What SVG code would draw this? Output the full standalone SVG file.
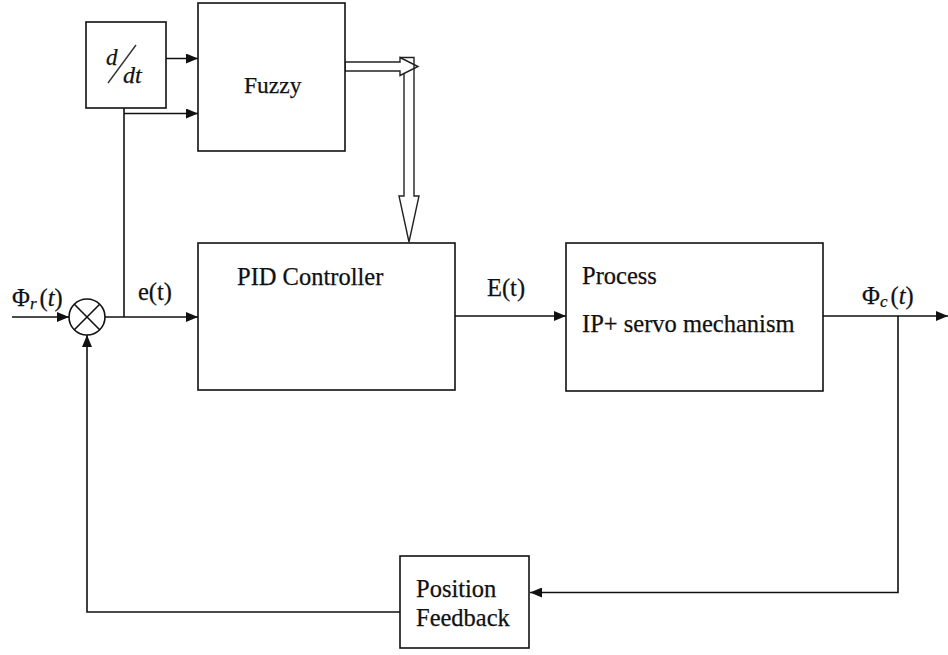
<svg xmlns="http://www.w3.org/2000/svg" width="948" height="655" viewBox="0 0 948 655">
<style>
.box{fill:#fff;stroke:#111;stroke-width:1.6}
.ln{fill:none;stroke:#111;stroke-width:1.6}
.hol{stroke:#222;stroke-width:1.4;stroke-linejoin:miter}
.t{font-size:24.5px;fill:#111;stroke:#111;stroke-width:0.25}
.it{font-style:italic}
</style>
<defs>
<marker id="ah" viewBox="0 0 12 10" refX="12" refY="5" markerWidth="12" markerHeight="10" markerUnits="userSpaceOnUse" orient="auto">
<path d="M0,0 L12,5 L0,10 Z" fill="#111"/>
</marker>
</defs>
<g id="connectors">
<line class="ln" x1="12" y1="317" x2="69" y2="317" marker-end="url(#ah)"/>
<line class="ln" x1="105" y1="317" x2="198" y2="317" marker-end="url(#ah)"/>
<line class="ln" x1="124" y1="108" x2="124" y2="317"/>
<line class="ln" x1="124" y1="113.5" x2="198" y2="113.5" marker-end="url(#ah)"/>
<line class="ln" x1="160" y1="58.5" x2="198" y2="58.5" marker-end="url(#ah)"/>
<line class="ln" x1="455" y1="316" x2="566" y2="316" marker-end="url(#ah)"/>
<line class="ln" x1="823" y1="316" x2="948" y2="316" marker-end="url(#ah)"/>
<polyline class="ln" points="898,316 898,592.5 530,592.5" marker-end="url(#ah)"/>
<polyline class="ln" points="400,612 87,612 87,335" marker-end="url(#ah)"/>
<polygon class="hol" fill="#fff" points="345,62 400,62 400,57.5 418,66.5 400,75.5 400,71 345,71"/>
<path class="hol" fill="none" d="M404,74 V196 H399 L409,242 L419,196 H414 V57.5 H400"/>
</g>
<g id="sum">
<circle cx="87" cy="317" r="18" class="box"/>
<line class="ln" x1="74.3" y1="304.3" x2="99.7" y2="329.7"/>
<line class="ln" x1="99.7" y1="304.3" x2="74.3" y2="329.7"/>
</g>
<g font-family="'Liberation Serif', 'Times New Roman', 'DejaVu Serif', serif">
<g id="ddt">
<rect class="box" x="86" y="22" width="80" height="86"/>
<text class="t it" x="106" y="65" style="font-size:23px">d</text>
<line x1="108" y1="83" x2="136" y2="45" stroke="#333" stroke-width="1.4"/>
<text class="t it" x="123" y="83" style="font-size:24px">dt</text>
</g>
<g id="fuzzy">
<rect class="box" x="198" y="3" width="147" height="148"/>
<text class="t" x="244" y="93" style="font-size:23.5px">Fuzzy</text>
</g>
<g id="pid">
<rect class="box" x="198" y="243" width="257" height="147"/>
<text class="t" x="237" y="285">PID Controller</text>
</g>
<g id="process">
<rect class="box" x="566" y="243" width="257" height="148"/>
<text class="t" x="582" y="284">Process</text>
<text class="t" x="582" y="332">IP+ servo mechanism</text>
</g>
<g id="feedback">
<rect class="box" x="400" y="556" width="129" height="92"/>
<text class="t" x="416" y="597">Position</text>
<text class="t" x="416" y="626">Feedback</text>
</g>
<g id="labels">
<text class="t" x="138" y="300">e(t)</text>
<text class="t" x="487" y="296">E(t)</text>
<text class="t" x="12" y="306">Φ<tspan class="it" style="font-size:17px" dy="3">r</tspan><tspan dy="-3" dx="3">(</tspan><tspan class="it">t</tspan>)</text>
<text class="t" x="862" y="304">Φ<tspan class="it" style="font-size:17px" dy="3">c</tspan><tspan dy="-3" dx="3">(</tspan><tspan class="it">t</tspan>)</text>
</g>
</g>
</svg>
